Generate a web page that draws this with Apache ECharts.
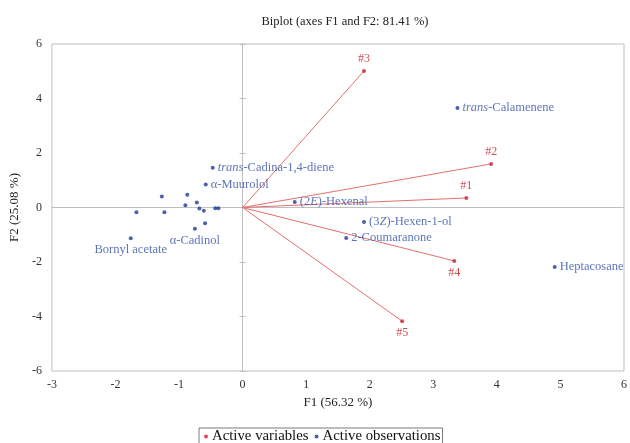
<!DOCTYPE html>
<html>
<head>
<meta charset="utf-8">
<script src="https://cdn.jsdelivr.net/npm/echarts@6/dist/echarts.min.js"></script>
<style>html,body{margin:0;padding:0;background:#fff;}#c{width:630px;height:443px;}</style>
</head>
<body>
<div id="c"></div>
<script>
// Active variables
var varNames = ['#1', '#2', '#3', '#4', '#5'];
var varF1 = [3.52, 3.91, 1.91, 3.33, 2.51];
var varF2 = [0.35, 1.60, 5.01, -1.96, -4.17];
var varLabelPos = ['top', 'top', 'top', 'bottom', 'bottom'];

// Active observations
var obsNames = ['trans-Calamenene', 'Heptacosane', '(3Z)-Hexen-1-ol', '2-Coumaranone', '(2E)-Hexenal',
  'trans-Cadina-1,4-diene', 'α-Muurolol', '', '', '', '', '', '', '', '', '', '', '', 'α-Cadinol', 'Bornyl acetate'];
var obsF1 = [3.38, 4.91, 1.91, 1.63, 0.82, -0.47, -0.58, -1.27, -0.87, -1.67, -1.23, -0.90, -0.72, -0.68, -0.61, -0.43, -0.38, -0.59, -0.75, -1.76];
var obsF2 = [3.65, -2.18, -0.53, -1.12, 0.20, 1.46, 0.84, 0.40, 0.47, -0.17, -0.17, 0.08, 0.18, -0.04, -0.12, -0.03, -0.03, -0.58, -0.78, -1.13];
var obsLabelPos = ['right', 'right', 'right', 'right', 'right', 'right', 'right', 'right', 'right', 'right', 'right', 'right', 'right', 'right', 'right', 'right', 'right', 'right', 'bottom', 'bottom'];

var xTicks = [-3, -2, -1, 0, 1, 2, 3, 4, 5, 6];
var yTicks = [-6, -4, -2, 0, 2, 4, 6];

var RED = '#C8232C', RED_LINE = '#E2716F', BLUE = '#1F3A93', BLUE_TXT = '#3553A6', GRAY = '#BFBFBF';
var FONT = '"Liberation Serif", "DejaVu Serif", serif';

function richName(n) {
  return n.replace(/^trans/, '{i|trans}').replace(/\((\d)([EZ])\)/, '($1{i|$2})');
}

var series = [];
varNames.forEach(function (n, i) {
  series.push({
    type: 'line', silent: true, symbol: 'none', xAxisIndex: 0, yAxisIndex: 0,
    lineStyle: { color: RED_LINE, width: 1 },
    data: [[0, 0], [varF1[i], varF2[i]]], z: 2
  });
});
series.push({
  name: 'Active variables', type: 'scatter', symbolSize: 4, z: 4,
  itemStyle: { color: RED },
  data: varNames.map(function (n, i) {
    return { name: n, value: [varF1[i], varF2[i]], label: { position: varLabelPos[i] } };
  }),
  label: { show: true, formatter: '{b}', color: RED, fontFamily: FONT, fontSize: 12, distance: 4 }
});
series.push({
  name: 'Active observations', type: 'scatter', symbolSize: 4, z: 4,
  itemStyle: { color: BLUE },
  data: obsNames.map(function (n, i) {
    return { name: n, value: [obsF1[i], obsF2[i]], label: { position: obsLabelPos[i] } };
  }),
  label: {
    show: true, color: BLUE_TXT, fontFamily: FONT, fontSize: 12.5, distance: 3,
    formatter: function (p) { return richName(p.name); },
    rich: { i: { fontStyle: 'italic', color: BLUE_TXT, fontFamily: FONT, fontSize: 12.5 } }
  }
});

var chart = echarts.init(document.getElementById('c'));
chart.setOption({
  animation: false,
  backgroundColor: '#fff',
  title: {
    text: 'Biplot (axes F1 and F2: 81.41 %)', left: 340, textAlign: 'center', top: 10,
    textStyle: { fontFamily: FONT, fontSize: 12.5, fontWeight: 'normal', color: '#222' }
  },
  legend: {
    bottom: -3, left: 199, itemWidth: 4, itemHeight: 4, itemGap: 6,
    borderColor: '#7a7a7a', borderWidth: 1, padding: [1, 2, 2, 5],
    textStyle: { fontFamily: FONT, fontSize: 14.8, color: '#111', padding: [0, 0, 0, -1] },
    data: [{ name: 'Active variables', icon: 'circle' }, { name: 'Active observations', icon: 'circle' }]
  },
  grid: { left: 50, right: 3, top: 44, bottom: 72, show: true, borderColor: GRAY, borderWidth: 1 },
  xAxis: [{
    type: 'value', min: xTicks[0], max: xTicks[xTicks.length - 1], interval: 1, position: 'bottom',
    axisLine: { show: false }, axisTick: { show: false }, splitLine: { show: false },
    axisLabel: { fontFamily: FONT, fontSize: 12, color: '#333', margin: 8 },
    name: 'F1 (56.32 %)', nameLocation: 'middle', nameGap: 25,
    nameTextStyle: { fontFamily: FONT, fontSize: 13, color: '#222' }
  }, {
    type: 'value', min: xTicks[0], max: xTicks[xTicks.length - 1], interval: 1,
    axisLine: { show: true, onZero: true, lineStyle: { color: GRAY } },
    axisTick: { show: false },
    axisLabel: { show: false }, splitLine: { show: false }
  }],
  yAxis: [{
    type: 'value', min: yTicks[0], max: yTicks[yTicks.length - 1], interval: 2, position: 'left',
    axisLine: { show: false }, axisTick: { show: false }, splitLine: { show: false },
    axisLabel: { fontFamily: FONT, fontSize: 12, color: '#333', margin: 10 },
    name: 'F2 (25.08 %)', nameLocation: 'middle', nameGap: 30, nameRotate: 90,
    nameTextStyle: { fontFamily: FONT, fontSize: 13, color: '#222' }
  }, {
    type: 'value', min: yTicks[0], max: yTicks[yTicks.length - 1], interval: 2,
    axisLine: { show: true, onZero: true, onZeroAxisIndex: 1, lineStyle: { color: GRAY } },
    axisTick: { show: true, length: 3, lineStyle: { color: GRAY } },
    axisLabel: { show: false }, splitLine: { show: false }
  }, {
    type: 'value', min: yTicks[0], max: yTicks[yTicks.length - 1], interval: 2,
    axisLine: { show: false, onZero: true, onZeroAxisIndex: 1 },
    axisTick: { show: true, length: 3, inside: true, lineStyle: { color: GRAY } },
    axisLabel: { show: false }, splitLine: { show: false }
  }],
  series: series
});
</script>
</body>
</html>
